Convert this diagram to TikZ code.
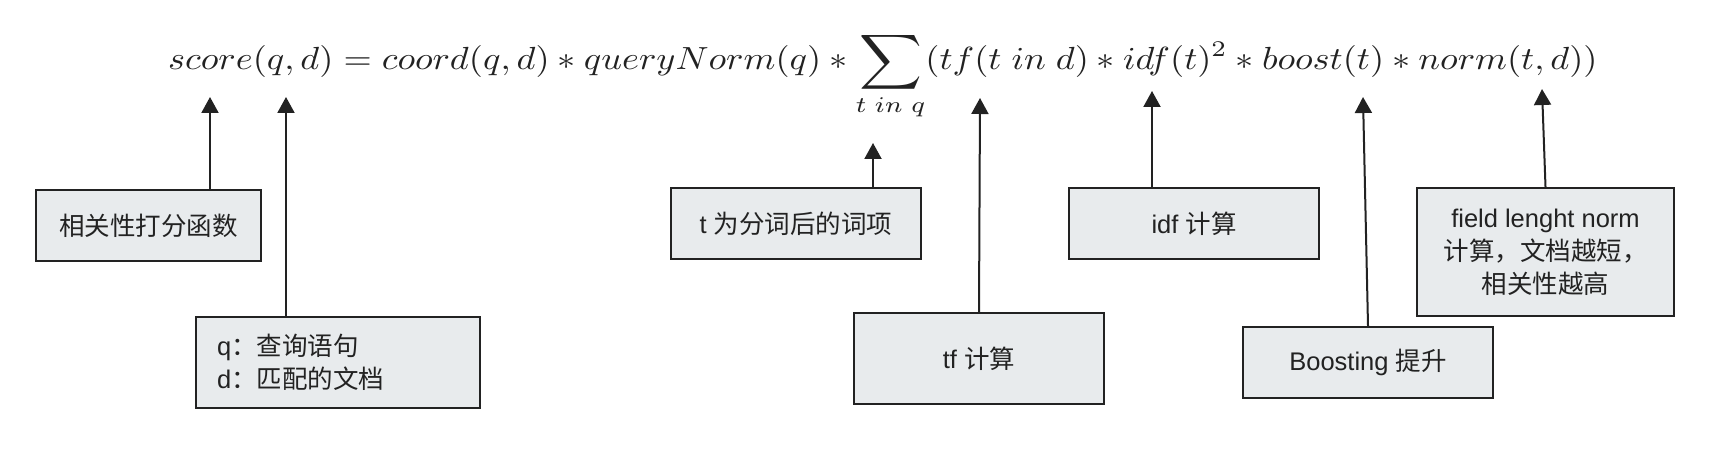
\documentclass[tikz,border=0pt]{standalone}
\usepackage{fontspec}
\usepackage{graphicx}
\setmainfont{Liberation Sans}
\newfontfamily\cjk{Noto Sans CJK SC}
\usetikzlibrary{arrows.meta}
\definecolor{boxgray}{RGB}{232,235,237}
\definecolor{ink}{RGB}{34,34,34}
\begin{document}
\begin{tikzpicture}[x=1pt,y=-1pt,
  box/.style={draw=ink, line width=2.2pt, fill=boxgray, text=ink, inner sep=0pt,
    font=\fontsize{25.5}{33}\selectfont, align=center},
  arr/.style={draw=ink, line width=2pt, -{Triangle[width=17pt,length=16pt]}}]
\useasboundingbox[fill=white] (0,0) rectangle (1716,470);
% formula
\node[anchor=base west, inner sep=0pt, text=ink] (f) at (168,70)
  {\resizebox{1429pt}{3.2\height}{$\displaystyle score(q,d)=coord(q,d)\ast queryNorm(q)\ast\mathop{\vcenter{\hbox{\scalebox{1.2}{$\displaystyle\sum$}}}}\limits_{t\;in\;q}(tf(t\;in\;d)\ast idf(t)^2\ast boost(t)\ast norm(t,d))$}};
% boxes
\node[box, minimum width=225pt, minimum height=71pt] (A) at (148.5,225.5) {{\cjk 相关性打分函数}};
\node[box, minimum width=284pt, minimum height=91pt, text width=242pt, align=left] (B) at (338,362.5) {q{\cjk ：查询语句}\\d{\cjk ：匹配的文档}};
\node[box, minimum width=250pt, minimum height=71pt] (C) at (796,223.5) {t {\cjk 为分词后的词项}};
\node[box, minimum width=250pt, minimum height=91pt] (D) at (979,358.5) {tf {\cjk 计算}};
\node[box, minimum width=250pt, minimum height=71pt] (E) at (1194,223.5) {idf {\cjk 计算}};
\node[box, minimum width=250pt, minimum height=71pt] (F) at (1368,362.5) {Boosting {\cjk 提升}};
\node[box, minimum width=257pt, minimum height=128pt] (G) at (1545.5,252) {field lenght norm\\{\cjk 计算，文档越短，}\\{\cjk 相关性越高}};
% arrow tips
\coordinate (tA) at (210,97);
\coordinate (tB) at (286,97);
\coordinate (tC) at (873,143);
\coordinate (tD) at (980,98);
\coordinate (tE) at (1152,91);
\coordinate (tF) at (1363,97);
\coordinate (tG) at (1542,89);
% connectors
\draw[arr] (A.north -| tA) -- (tA);
\draw[arr] (B.north -| tB) -- (tB);
\draw[arr] (C.north -| tC) -- (tC);
\draw[arr] (D.north) -- (tD);
\draw[arr] (E.north -| tE) -- (tE);
\draw[arr] (F.north) -- (tF);
\draw[arr] (G.north) -- (tG);
\end{tikzpicture}
\end{document}
